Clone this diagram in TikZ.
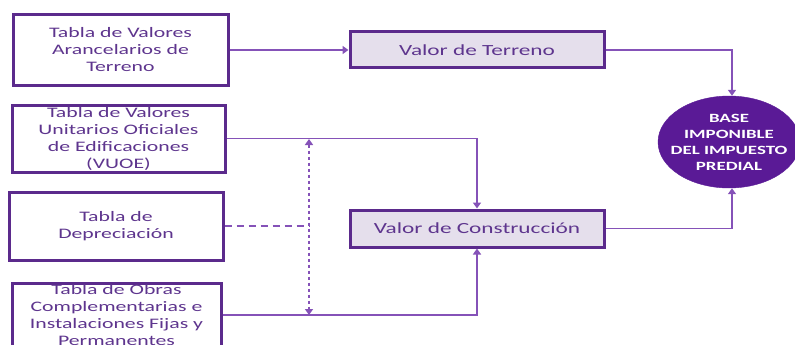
\documentclass[tikz,border=0pt]{standalone}
\usepackage{fontspec}
\setmainfont{Carlito}[FakeStretch=1.5]
\usetikzlibrary{arrows.meta,shapes.geometric}
\definecolor{boxline}{HTML}{5B2A8C}
\definecolor{conn}{HTML}{8552B8}
\definecolor{txt}{HTML}{5E358E}
\definecolor{lav}{HTML}{E5DFEC}
\definecolor{ellfill}{HTML}{5A1A96}
\tikzset{
  srcbox/.style={draw=boxline, line width=3pt, fill=white, text=txt, align=center, inner sep=0pt,
    font=\fontsize{14.5}{17}\selectfont},
  valbox/.style={draw=boxline, line width=3pt, fill=lav, text=txt, align=center, inner sep=0pt,
    minimum width=254pt, font=\fontsize{15.5}{18}\selectfont},
  conn/.style={draw=conn, line width=1.5pt},
  tip/.style={-{Triangle[width=8pt,length=6pt]}},
  dottedc/.style={conn, dash pattern=on 3pt off 3pt},
  dashedc/.style={conn, dash pattern=on 7pt off 5pt},
}
\begin{document}
\begin{tikzpicture}[x=1pt,y=-1pt]
\useasboundingbox (0,0) rectangle (795,345);
\clip (0,0) rectangle (795,345);
% source boxes
\node[srcbox, minimum width=215pt, minimum height=70pt] (t1) at (120.5,50) {Tabla de Valores\\Arancelarios de\\Terreno};
\node[srcbox, minimum width=213pt, minimum height=67pt] (t2) at (118.5,138.5) {Tabla de Valores\\Unitarios Oficiales\\de Edificaciones\\(VUOE)};
\node[srcbox, minimum width=214pt, minimum height=68pt] (t3) at (116,226) {Tabla de\\Depreciación};
\node[srcbox, minimum width=209pt, minimum height=64pt] (t4) at (116.5,315) {Tabla de Obras\\Complementarias e\\Instalaciones Fijas y\\Permanentes};
% value boxes
\node[valbox, minimum height=36pt] (vt) at (477,50) {Valor de Terreno};
\node[valbox, minimum height=37pt] (vc) at (477,228.5) {Valor de Construcción};
% ellipse
\node[ellipse, fill=ellfill, draw=ellfill, minimum width=142pt, minimum height=92pt, inner sep=0pt] (e) at (729,142) {};
\node[text=white, align=center, font=\fontsize{12.6}{16}\bfseries\selectfont] (etxt) at (e.center) {BASE\\IMPONIBLE\\DEL IMPUESTO\\PREDIAL};
% connectors
\draw[conn, tip] (t1.east) -- (vt.west);
\draw[conn, tip] (vt.east) -| ([xshift=3pt]e.north);
\draw[conn, tip] (vc.east) -| ([xshift=3pt]e.south);
\draw[conn, tip] (t2.east) -| (vc.north);
\draw[conn, tip] (t4.east) -| (vc.south);
\coordinate (dtop) at (309,139);
\coordinate (dbot) at (309,315);
\coordinate (dmid) at (309,226);
\draw[dashedc] (t3.east) -- (dmid);
\draw[dottedc, {Triangle[width=8pt,length=6pt]}-{Triangle[width=8pt,length=6pt]}] (dtop) -- (dbot);
\end{tikzpicture}
\end{document}
